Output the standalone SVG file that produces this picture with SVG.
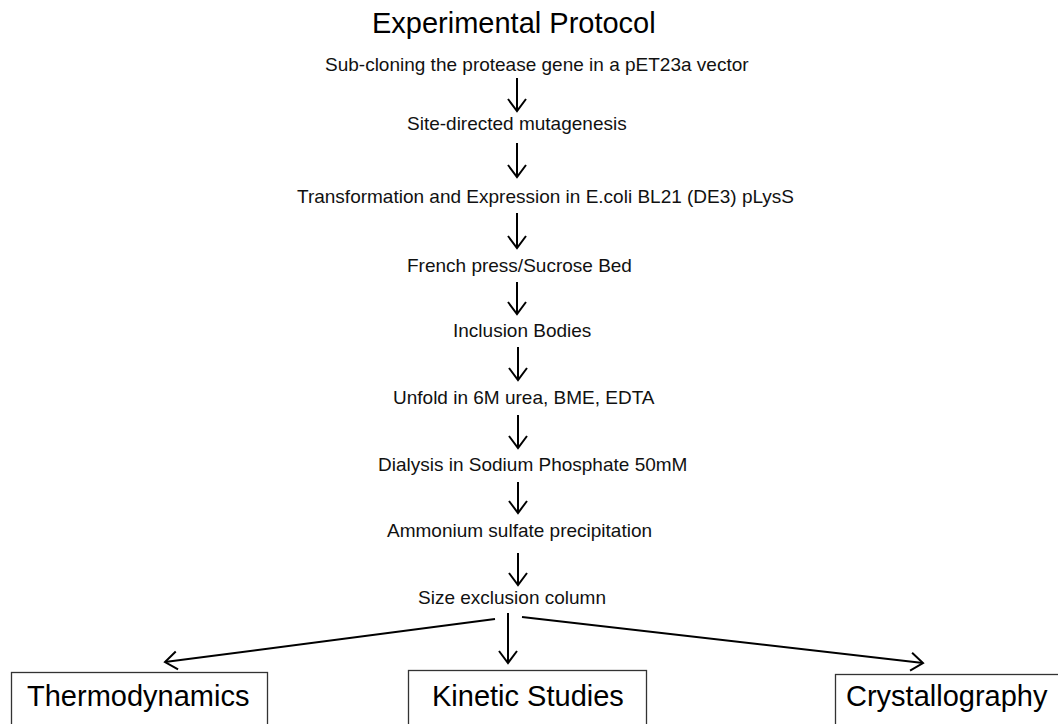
<svg xmlns="http://www.w3.org/2000/svg" width="1058" height="724" viewBox="0 0 1058 724">
<defs>
<style>
.t{font-family:"Liberation Sans",Arial,sans-serif;fill:#111}
.s{font-size:19px}
.big{font-size:29px;fill:#000}
.box{fill:#fff;stroke:#333;stroke-width:1.3}
.c{fill:none;stroke:#000;stroke-width:2}
</style>
<marker id="ah" markerUnits="userSpaceOnUse" markerWidth="30" markerHeight="30" viewBox="-15 -15 30 30" refX="0" refY="0" orient="auto" overflow="visible">
<path d="M-12,-9 L0,0 L-12,9" fill="none" stroke="#000" stroke-width="2"/>
</marker>
</defs>
<rect width="1058" height="724" fill="#fff"/>
<text class="t big" x="372" y="33">Experimental Protocol</text>
<g id="n1"><text class="t s" x="325" y="71">Sub-cloning the protease gene in a pET23a vector</text></g>
<g id="n2"><text class="t s" x="407" y="130">Site-directed mutagenesis</text></g>
<g id="n3"><text class="t s" x="297" y="203">Transformation and Expression in E.coli BL21 (DE3) pLysS</text></g>
<g id="n4"><text class="t s" x="407" y="272">French press/Sucrose Bed</text></g>
<g id="n5"><text class="t s" x="453" y="337">Inclusion Bodies</text></g>
<g id="n6"><text class="t s" x="393" y="404">Unfold in 6M urea, BME, EDTA</text></g>
<g id="n7"><text class="t s" x="378" y="471">Dialysis in Sodium Phosphate 50mM</text></g>
<g id="n8"><text class="t s" x="387" y="537">Ammonium sulfate precipitation</text></g>
<g id="n9"><text class="t s" x="418" y="604">Size exclusion column</text></g>
<g id="thermo"><rect class="box" x="11.5" y="672.5" width="256" height="60"/><text class="t big" x="27" y="706">Thermodynamics</text></g>
<g id="kinetic"><rect class="box" x="408.5" y="670.5" width="238" height="60"/><text class="t big" x="432" y="706">Kinetic Studies</text></g>
<g id="crystal"><rect class="box" x="835.5" y="674.5" width="240" height="60"/><text class="t big" x="846" y="706">Crystallography</text></g>
<g id="connectors">
<line class="c" x1="517" y1="78" x2="517" y2="111" marker-end="url(#ah)"/>
<line class="c" x1="517" y1="143" x2="517" y2="177" marker-end="url(#ah)"/>
<line class="c" x1="517" y1="213" x2="517" y2="248" marker-end="url(#ah)"/>
<line class="c" x1="517" y1="282" x2="517" y2="314" marker-end="url(#ah)"/>
<line class="c" x1="518" y1="347" x2="518" y2="380" marker-end="url(#ah)"/>
<line class="c" x1="518" y1="415" x2="518" y2="448" marker-end="url(#ah)"/>
<line class="c" x1="518" y1="482" x2="518" y2="513" marker-end="url(#ah)"/>
<line class="c" x1="518" y1="553" x2="518" y2="585" marker-end="url(#ah)"/>
<line class="c" x1="495" y1="619" x2="165" y2="662" marker-end="url(#ah)"/>
<line class="c" x1="508" y1="613" x2="508" y2="663" marker-end="url(#ah)"/>
<line class="c" x1="522" y1="617" x2="923" y2="663" marker-end="url(#ah)"/>
</g>
</svg>
